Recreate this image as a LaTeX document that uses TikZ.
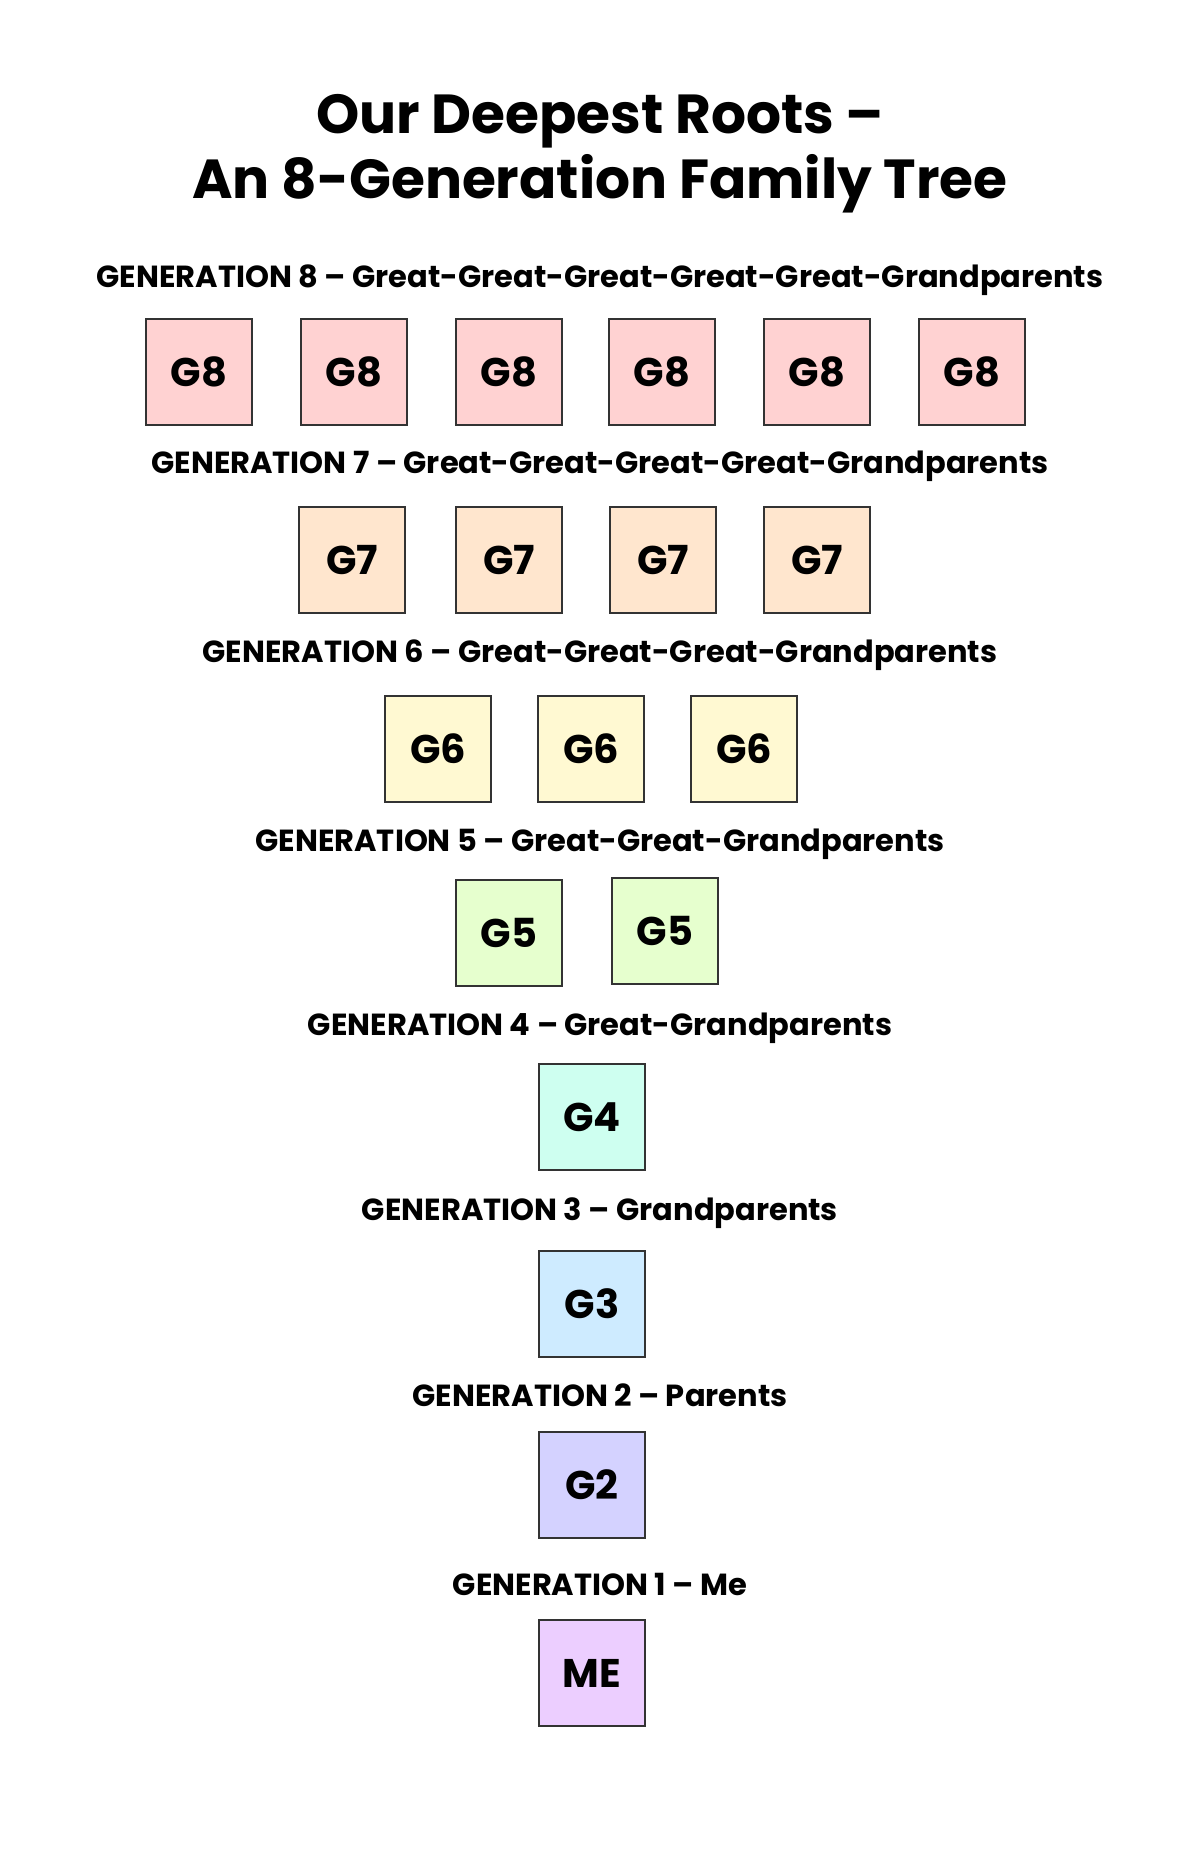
\documentclass[tikz,border=0pt]{standalone}
\usepackage{fontspec}
\setmainfont{Poppins}[BoldFont={* Bold}]
\begin{document}
\begin{tikzpicture}[x=1pt,y=-1pt,
  box/.style={draw=black!80,line width=2.2pt,minimum size=106pt,inner sep=0pt,font=\fontsize{40}{42}\selectfont\bfseries},
  gen/.style={font=\fontsize{30.5}{34}\selectfont\bfseries},
  g8/.style={box,fill=c8},g7/.style={box,fill=c7},g6/.style={box,fill=c6},g5/.style={box,fill=c5},
  g4/.style={box,fill=c4},g3/.style={box,fill=c3},g2/.style={box,fill=c2},g1/.style={box,fill=c1}]
\definecolor{c8}{HTML}{FFD2D2}\definecolor{c7}{HTML}{FFE6CE}\definecolor{c6}{HTML}{FFF9D2}
\definecolor{c5}{HTML}{E6FFCE}\definecolor{c4}{HTML}{CEFFF0}\definecolor{c3}{HTML}{CEEBFF}
\definecolor{c2}{HTML}{D4D2FF}\definecolor{c1}{HTML}{ECCEFF}
\useasboundingbox[fill=white] (0,0) rectangle (1200,1854);
\node[align=center,font=\fontsize{55}{65}\selectfont\bfseries] (title) at (600,154) {Our Deepest Roots –\\An 8-Generation Family Tree};
\node[gen] (l8) at (600,280) {GENERATION 8 – Great-Great-Great-Great-Great-Grandparents};
\foreach \x [count=\i] in {199,354,509,662,817,972} \node[g8] (a\i) at (\x,372) {G8};
\node[gen] (l7) at (600,466) {GENERATION 7 – Great-Great-Great-Great-Grandparents};
\foreach \x [count=\i] in {352,509,663,817} \node[g7] (b\i) at (\x,560) {G7};
\node[gen] (l6) at (600,655) {GENERATION 6 – Great-Great-Great-Grandparents};
\foreach \x [count=\i] in {438,591,744} \node[g6] (c\i) at (\x,749) {G6};
\node[gen] (l5) at (600,844) {GENERATION 5 – Great-Great-Grandparents};
\node[g5] (d1) at (509,933) {G5};
\node[g5] (d2) at (665,931) {G5};
\node[gen] (l4) at (600,1028) {GENERATION 4 – Great-Grandparents};
\node[g4] (e1) at (592,1117) {G4};
\node[gen] (l3) at (600,1213) {GENERATION 3 – Grandparents};
\node[g3] (f1) at (592,1304) {G3};
\node[gen] (l2) at (600,1395) {GENERATION 2 – Parents};
\node[g2] (h1) at (592,1485) {G2};
\node[gen] (l1) at (600,1584) {GENERATION 1 – Me};
\node[g1] (me) at (592,1673) {ME};
\end{tikzpicture}
\end{document}
